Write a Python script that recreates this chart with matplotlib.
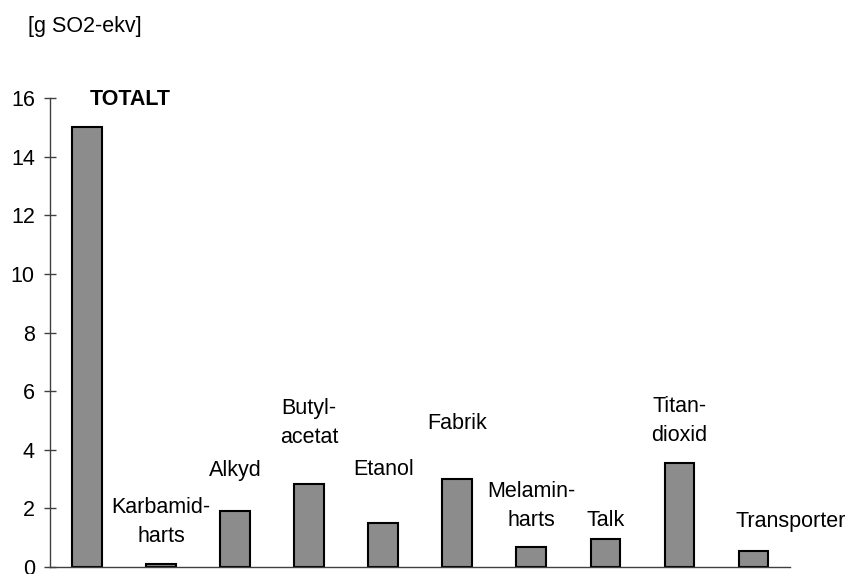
import numpy as np
import matplotlib.pyplot as plt

plt.rcParams['font.family'] = ['Liberation Sans', 'DejaVu Sans']

# Acidification per component
categories = ['TOTALT', 'Karbamid-\nharts', 'Alkyd', 'Butyl-\nacetat', 'Etanol',
              'Fabrik', 'Melamin-\nharts', 'Talk', 'Titan-\ndioxid', 'Transporter']
values = [15.0, 0.1, 1.9, 2.83, 1.5, 3.0, 0.68, 0.95, 3.55, 0.55]
yticks = [0, 2, 4, 6, 8, 10, 12, 14, 16]

# label placement (data coords), hand-tuned to mimic the original layout
label_x = [0.58, 1, 2, 3, 4, 5, 6, 7, 8, 9.51]
label_y = [15.94, 1.54, 3.31, 4.90, 3.34, 4.91, 2.10, 1.60, 4.97, 1.57]

fig = plt.figure(figsize=(8.49, 5.74), dpi=100)
ax = fig.add_axes([0.059, 0.012, 0.872, 0.817])

x = np.arange(len(categories))
ax.bar(x, values, width=0.4, color='#8c8c8c', edgecolor='black', linewidth=1.5, zorder=2)

for i, lab in enumerate(categories):
    ax.text(label_x[i], label_y[i], lab, ha='center', va='center', fontsize=15.5,
            linespacing=1.5, fontweight='bold' if i == 0 else 'normal')

ax.set_xlim(-0.5, len(categories) - 0.5)
ax.set_ylim(0, 16)
ax.set_yticks(yticks)
ax.set_xticks([])
ax.tick_params(axis='y', direction='inout', length=8, width=1, color='#404040',
               labelsize=15.5, pad=7)

for s in ['top', 'right']:
    ax.spines[s].set_visible(False)
for s in ['left', 'bottom']:
    ax.spines[s].set_color('#404040')
    ax.spines[s].set_linewidth(1)

fig.text(0.033, 0.954, '[g SO2-ekv]', fontsize=15.5, va='center', ha='left')

fig.savefig('out.png', dpi=100)
